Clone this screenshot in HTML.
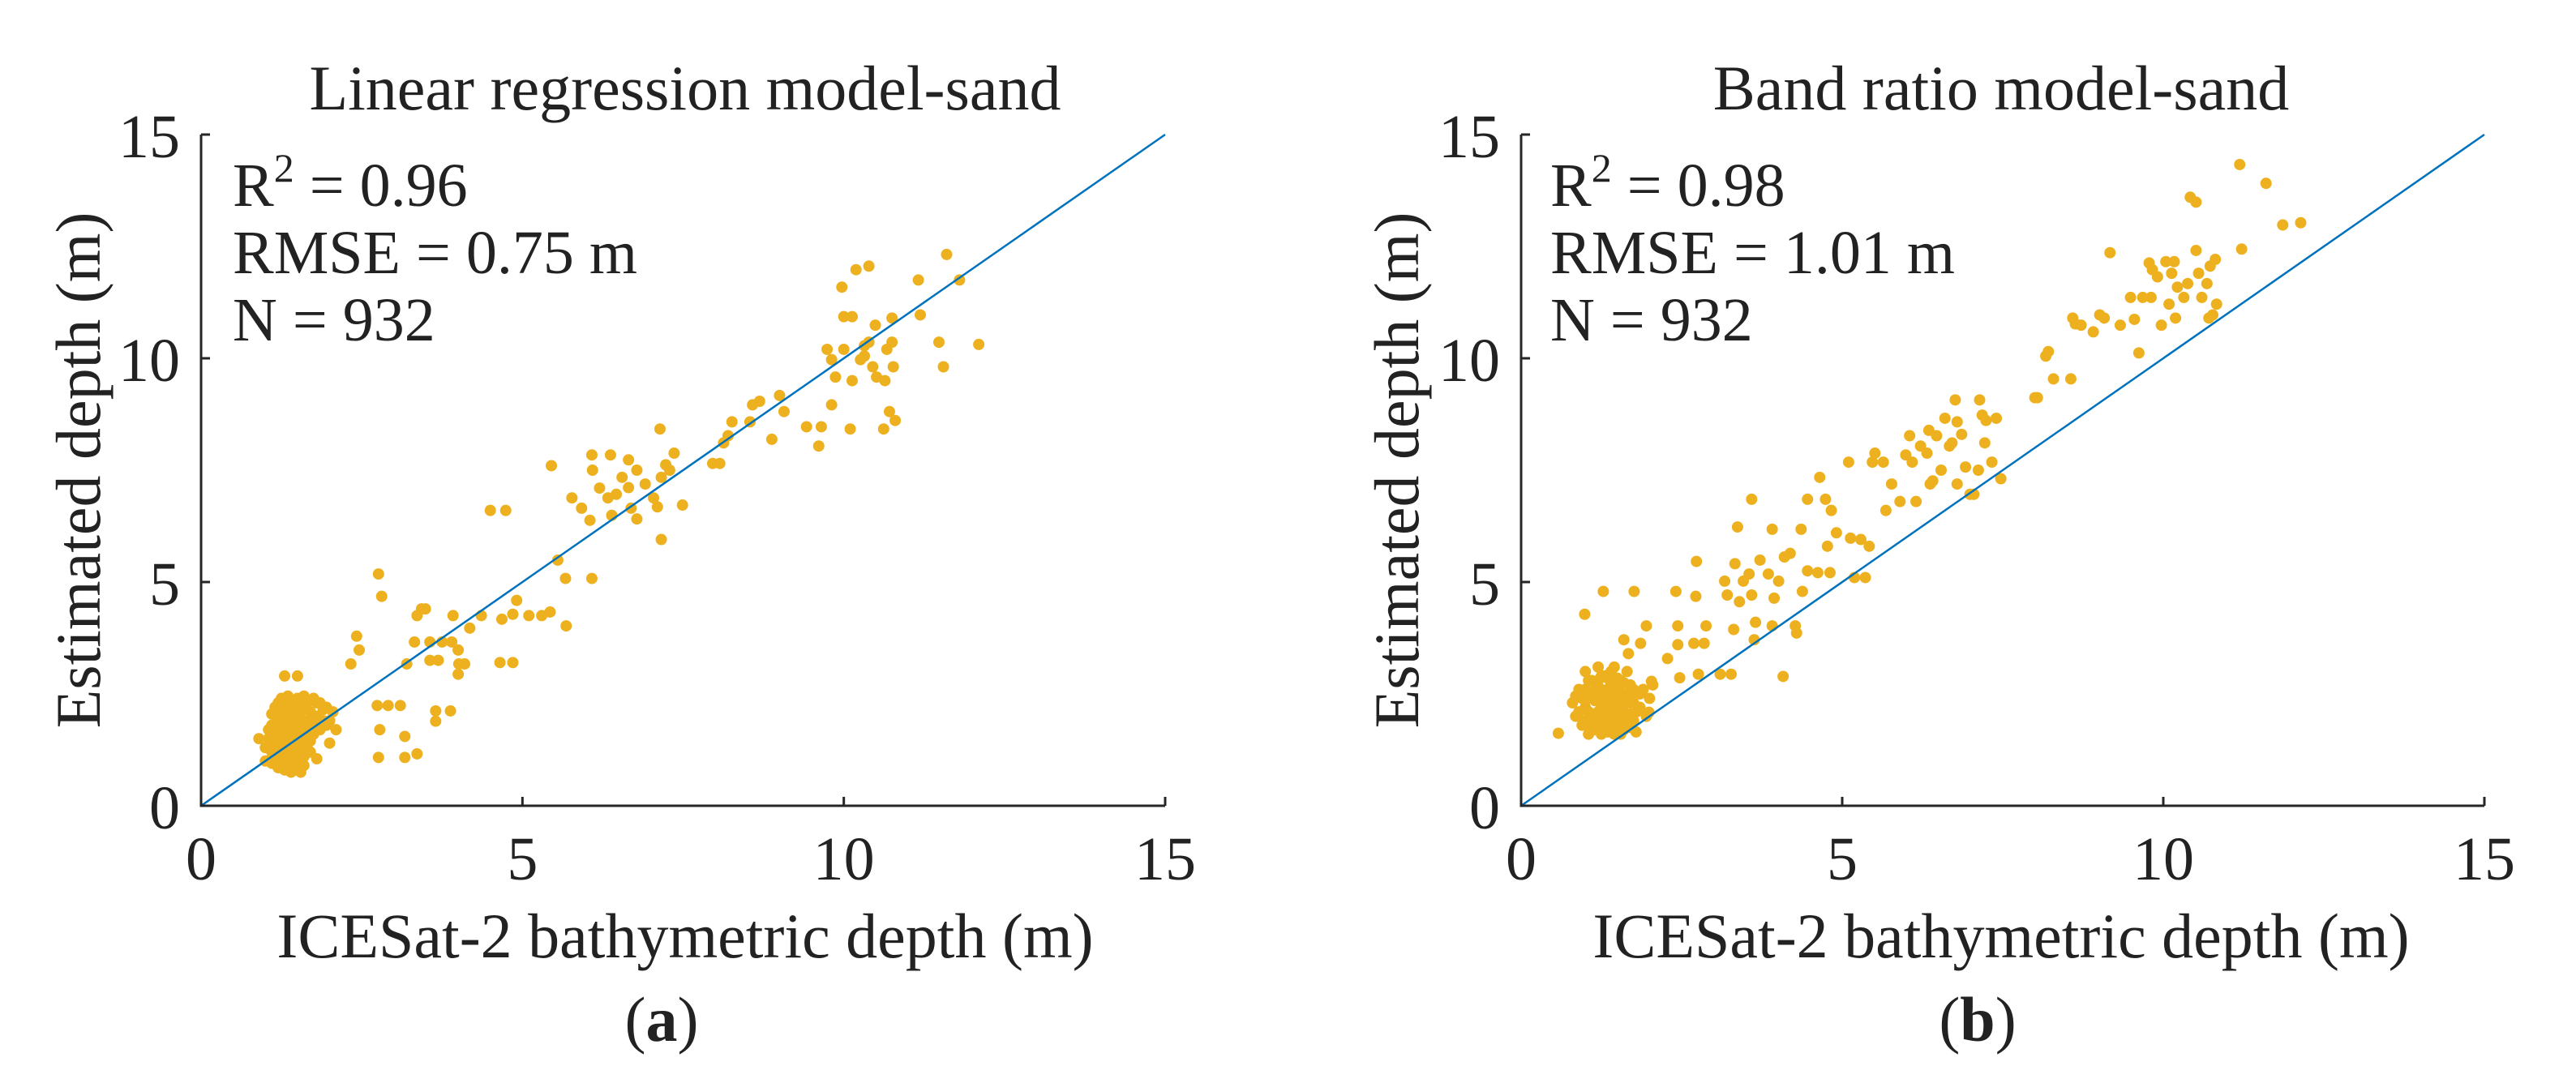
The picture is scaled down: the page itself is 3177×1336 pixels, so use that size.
<!DOCTYPE html>
<html><head><meta charset="utf-8"><style>
html,body{margin:0;padding:0;background:#fff;}
svg{display:block;}
svg text{font-family:"Liberation Serif","DejaVu Serif",serif;fill:#222;}
</style></head><body>
<svg id="fig" width="3177" height="1336" viewBox="0 0 3177 1336" xmlns="http://www.w3.org/2000/svg" font-family="Liberation Serif, DejaVu Serif, serif"></svg>
<script>
const tickValues=[0,5,10,15];
const tickLabels=["0","5","10","15"];
const linCluster=[[1.05,1.5],[1.1,1.2],[1.1,1.8],[1.15,1.0],[1.15,2.2],[1.2,0.85],[1.2,1.4],[1.2,1.9],[1.25,2.4],[1.25,1.1],[1.3,0.8],[1.3,1.6],[1.3,2.1],[1.35,1.3],[1.35,0.95],[1.35,2.45],[1.4,1.8],[1.4,1.5],[1.4,2.3],[1.45,1.0],[1.45,2.0],[1.5,0.8],[1.5,1.3],[1.5,1.7],[1.5,2.4],[1.55,1.1],[1.55,2.1],[1.6,1.5],[1.6,1.9],[1.6,0.9],[1.65,2.3],[1.65,1.3],[1.7,1.8],[1.7,2.1],[1.75,1.6],[1.75,2.4],[1.8,2.0],[1.8,1.05],[1.85,2.3],[1.9,1.9],[1.95,2.2],[2.0,1.4],[2.0,1.9],[2.05,2.1],[2.1,1.7],[1.3,2.9],[1.5,2.9],[0.9,1.5],[1.0,1.0],[1.25,1.65],[1.45,1.55],[1.35,1.9],[1.2,2.3],[1.55,0.75],[1.4,0.75],[1.1,0.95],[1.7,1.2],[1.6,2.45],[1.85,1.7],[1.15,1.55],[1.3,1.25],[1.45,1.25],[1.25,0.95],[1.4,2.05],[1.55,1.85],[1.2,2.0],[1.1,1.35],[1.1,2.05],[1.2,1.15],[1.2,1.65],[1.25,1.35],[1.25,1.85],[1.25,2.15],[1.3,1.0],[1.3,1.45],[1.3,1.8],[1.3,2.35],[1.35,1.1],[1.35,1.55],[1.35,2.15],[1.4,0.9],[1.4,1.2],[1.4,1.65],[1.45,1.4],[1.45,1.75],[1.45,2.2],[1.5,1.05],[1.5,1.5],[1.5,1.95],[1.5,2.2],[1.55,1.35],[1.55,1.6],[1.55,2.35],[1.6,1.1],[1.6,1.7],[1.6,2.15],[1.65,1.55],[1.65,1.85],[1.7,1.45],[1.7,2.35],[1.75,2.0],[1.8,1.75],[1.8,2.3],[1.9,2.15],[1.95,1.8],[1.15,1.75],[1.05,1.7],[1.0,1.3],[1.45,0.85],[1.35,0.8]];
const linOuter=[[2.33,3.17],[2.42,3.79],[2.46,3.48],[2.74,2.24],[2.76,1.08],[2.78,1.7],[2.91,2.24],[3.1,2.24],[3.17,1.08],[3.2,3.17],[3.36,1.16],[3.17,1.55],[2.76,5.18],[2.81,4.68],[3.43,4.4],[3.49,4.4],[3.36,4.25],[3.32,3.66],[3.56,3.66],[3.75,3.66],[3.56,3.25],[3.69,3.25],[3.9,3.66],[3.92,4.25],[4.0,3.48],[4.01,3.17],[4.1,3.17],[4.18,3.97],[4.36,4.25],[4.0,2.94],[3.88,2.12],[3.65,2.12],[3.65,1.89],[4.5,6.6],[4.74,6.6],[4.65,3.2],[4.85,3.2],[4.68,4.17],[4.85,4.28],[4.91,4.59],[5.1,4.25],[5.3,4.25],[5.43,4.33],[5.68,4.02],[5.55,5.49],[5.67,5.08],[6.08,5.08],[5.45,7.6],[5.77,6.88],[5.92,6.65],[6.05,6.38],[6.08,7.84],[6.09,7.5],[6.37,7.84],[6.2,7.1],[6.39,6.49],[6.46,6.96],[6.55,7.34],[6.65,7.73],[6.69,6.65],[6.78,7.5],[6.78,6.41],[6.91,7.19],[7.04,6.88],[7.1,6.68],[7.16,5.95],[7.16,7.34],[7.23,7.62],[7.14,8.42],[7.36,7.88],[7.29,7.5],[7.49,6.72],[6.65,7.11],[6.33,6.88],[7.96,7.65],[8.07,7.65],[8.13,8.11],[8.2,8.27],[8.26,8.58],[8.54,8.58],[8.58,8.96],[8.69,9.04],[8.88,8.19],[9.0,9.17],[9.07,8.81],[9.42,8.47],[9.61,8.04],[9.65,8.47],[9.81,8.96],[9.74,10.2],[9.81,9.97],[9.87,9.58],[9.97,11.59],[10.0,10.93],[10.0,10.2],[10.1,8.42],[10.13,9.5],[10.19,11.98],[10.26,9.97],[10.32,10.28],[10.39,12.06],[10.39,10.36],[10.45,9.81],[10.49,10.74],[10.51,9.58],[10.62,8.42],[10.64,9.5],[10.71,8.81],[10.75,10.9],[10.75,10.36],[10.77,9.81],[10.8,8.61],[10.67,10.2],[11.16,11.75],[11.19,10.97],[11.48,10.36],[11.55,9.81],[11.6,12.32],[11.8,11.75],[12.1,10.31],[10.13,10.93],[10.32,10.05]];
const brCluster=[[0.8,2.3],[0.85,2.0],[0.9,2.6],[0.95,1.8],[1.0,2.2],[1.0,3.0],[1.05,1.6],[1.05,2.5],[1.1,2.0],[1.1,2.8],[1.15,1.7],[1.15,2.35],[1.2,3.1],[1.2,2.1],[1.25,1.6],[1.25,2.6],[1.3,1.9],[1.3,2.9],[1.35,2.3],[1.35,1.65],[1.4,2.7],[1.4,2.0],[1.45,3.1],[1.45,1.6],[1.5,2.4],[1.5,1.9],[1.55,2.8],[1.55,2.15],[1.6,1.7],[1.6,2.5],[1.65,3.0],[1.65,2.0],[1.7,2.3],[1.7,2.7],[1.75,1.9],[1.8,2.5],[1.85,2.2],[1.9,2.6],[1.95,2.0],[2.0,2.4],[2.05,2.7],[1.25,2.25],[1.4,2.45],[1.15,2.0],[1.5,2.6],[1.35,2.6],[1.0,1.9],[1.6,2.25],[1.2,2.5],[1.45,2.2],[1.3,2.05],[1.1,2.4],[1.75,2.6],[0.9,2.1],[1.55,1.75],[1.7,1.75],[0.95,2.4],[1.05,2.1],[1.05,2.8],[1.1,1.75],[1.15,2.6],[1.2,1.8],[1.2,2.8],[1.25,2.0],[1.25,2.9],[1.3,1.7],[1.3,2.45],[1.35,2.05],[1.35,2.85],[1.4,1.75],[1.4,2.25],[1.4,3.0],[1.45,1.85],[1.45,2.5],[1.5,2.1],[1.5,2.85],[1.55,1.6],[1.55,2.45],[1.6,2.0],[1.6,2.75],[1.65,1.8],[1.65,2.5],[1.7,2.05],[1.75,2.3],[1.8,2.1],[1.85,2.5],[0.85,2.45],[1.0,2.6]];
const brOuter=[[0.58,1.62],[0.99,4.28],[1.28,4.79],[1.76,4.79],[1.6,3.71],[1.67,3.4],[1.86,3.63],[1.95,4.02],[1.79,1.65],[1.99,2.09],[2.03,2.78],[2.28,3.29],[2.41,4.79],[2.44,4.02],[2.44,3.6],[2.47,2.86],[2.69,3.63],[2.72,4.68],[2.73,5.46],[2.76,2.94],[2.85,3.63],[2.88,4.02],[3.1,2.94],[3.17,5.02],[3.21,4.71],[3.27,2.94],[3.33,5.41],[3.31,3.94],[3.37,6.23],[3.4,4.56],[3.46,5.02],[3.55,5.18],[3.59,6.85],[3.59,4.71],[3.63,3.71],[3.65,4.1],[3.72,5.49],[3.85,5.18],[3.91,6.18],[3.94,4.64],[3.91,4.02],[4.01,5.02],[4.08,2.89],[4.1,5.56],[4.19,5.64],[4.27,4.02],[4.29,3.86],[4.36,6.18],[4.38,4.79],[4.46,6.85],[4.46,5.25],[4.62,5.21],[4.65,7.34],[4.74,6.85],[4.77,5.8],[4.81,5.21],[4.83,6.6],[4.91,6.1],[5.1,7.68],[5.13,5.98],[5.19,5.1],[5.29,5.95],[5.36,5.1],[5.42,5.8],[5.51,7.88],[5.47,7.68],[5.64,7.68],[5.68,6.6],[5.77,7.19],[5.9,6.8],[5.99,7.84],[6.05,8.27],[6.09,7.68],[6.15,6.8],[6.22,8.04],[6.32,7.88],[6.35,8.39],[6.37,7.19],[6.41,7.26],[6.47,8.27],[6.54,7.5],[6.6,8.66],[6.67,8.04],[6.71,8.11],[6.76,9.07],[6.79,8.58],[6.79,7.19],[6.86,8.3],[6.92,7.57],[6.99,6.96],[7.05,6.96],[7.12,7.5],[7.14,9.07],[7.18,8.73],[7.22,8.11],[7.24,8.61],[7.33,7.68],[7.47,7.31],[7.4,8.66],[8.0,9.12],[8.04,9.12],[8.17,10.05],[8.21,10.15],[8.29,9.54],[8.56,9.54],[8.59,10.9],[8.63,10.77],[8.72,10.74],[8.91,10.59],[9.01,10.97],[9.08,10.9],[9.17,12.36],[9.33,10.74],[9.49,11.36],[9.55,10.87],[9.62,10.12],[9.68,11.36],[9.78,12.13],[9.81,11.36],[9.83,11.98],[9.91,11.82],[9.97,10.74],[10.04,12.16],[10.09,11.21],[10.13,11.9],[10.17,12.16],[10.19,10.9],[10.22,11.59],[10.32,11.36],[10.38,11.67],[10.42,13.6],[10.51,13.49],[10.51,12.41],[10.55,11.9],[10.6,11.36],[10.68,11.67],[10.71,10.9],[10.73,12.06],[10.77,10.97],[10.81,12.21],[10.83,11.21],[11.19,14.33],[11.22,12.44],[11.6,13.91],[11.86,12.98],[12.14,13.03]];

const NS="http://www.w3.org/2000/svg";
const svg=document.getElementById('fig');
const FONT="Liberation Serif, DejaVu Serif, serif";
function mk(tag,attrs,parent){const e=document.createElementNS(NS,tag);for(const k in attrs)e.setAttribute(k,attrs[k]);(parent||svg).appendChild(e);return e;}
function txt(attrs,parent){attrs['font-family']=FONT;attrs['fill']='#222';return mk('text',attrs,parent);}

function panel(p){
  const g=mk('g',{});
  
  
  const sx=v=>p.x0+(p.x15-p.x0)*v/15;
  const sy=v=>p.y0-(p.y0-p.y15)*v/15;
  const pts=mk('g',{fill:'#EDB120'},g);
  
  
  p.data.forEach(d=>{
    const c=mk('circle',{cx:sx(d[0]),cy:sy(d[1]),r:7},pts);
    
    
  });
  const ln=mk('line',{x1:sx(0),y1:sy(0),x2:sx(15),y2:sy(15),stroke:'#0072BD','stroke-width':2.5},g);
  
  
  const ax=mk('path',{d:`M${p.x0},${p.y15}V${p.y0}H${p.x15}`,fill:'none',stroke:'#262626','stroke-width':3},g);
  
  
  tickValues.forEach((v,i)=>{
    mk('line',{x1:sx(v),y1:p.y0,x2:sx(v),y2:p.y0-11,stroke:'#262626','stroke-width':3},g);
    mk('line',{x1:p.x0,y1:sy(v),x2:p.x0+11,y2:sy(v),stroke:'#262626','stroke-width':3},g);
    const tx=txt({x:sx(v),y:1085,'font-size':76,'text-anchor':'middle'},g);
    tx.textContent=tickLabels[i];
    
    
    const ty=txt({x:p.x0-26,y:sy(v)+28,'font-size':76,'text-anchor':'end'},g);
    ty.textContent=tickLabels[i];
    
    
  });
  const t=txt({x:p.tc,y:135,'font-size':78,'text-anchor':'middle'},g);
  t.textContent=p.title;
  
  
  const xl=txt({x:p.tc,y:1181,'font-size':78,'text-anchor':'middle'},g);
  xl.textContent='ICESat-2 bathymetric depth (m)';
  
  
  const yl=txt({x:0,y:0,'font-size':78,'text-anchor':'middle',transform:`translate(${p.yl},580) rotate(-90)`},g);
  yl.textContent='Estimated depth (m)';
  
  
  const a1=txt({x:p.ax,y:254,'font-size':76},g);
  a1.innerHTML='R<tspan dy="-30" font-size="50">2</tspan><tspan dy="30"> = '+p.r2+'</tspan>';
  
  
  const a2=txt({x:p.ax,y:337,'font-size':76},g);
  a2.textContent='RMSE = '+p.rmse+' m';
  
  
  const a3=txt({x:p.ax,y:420,'font-size':76},g);
  a3.textContent='N = 932';
  
  
  const lb=txt({x:p.lc,y:1284,'font-size':78,'text-anchor':'middle'},g);
  lb.innerHTML='(<tspan font-weight="bold">'+p.letter+'</tspan>)';
  
  
}
panel({id:'linear',x0:248,x15:1437,y0:994,y15:166,tc:845,yl:123,ax:287,lc:816,title:'Linear regression model-sand',r2:'0.96',rmse:'0.75',letter:'a',data:linCluster.concat(linOuter)});
panel({id:'band-ratio',x0:1876,x15:3064,y0:994,y15:166,tc:2468,yl:1749,ax:1912,lc:2439,title:'Band ratio model-sand',r2:'0.98',rmse:'1.01',letter:'b',data:brCluster.concat(brOuter)});
</script>
</body></html>
